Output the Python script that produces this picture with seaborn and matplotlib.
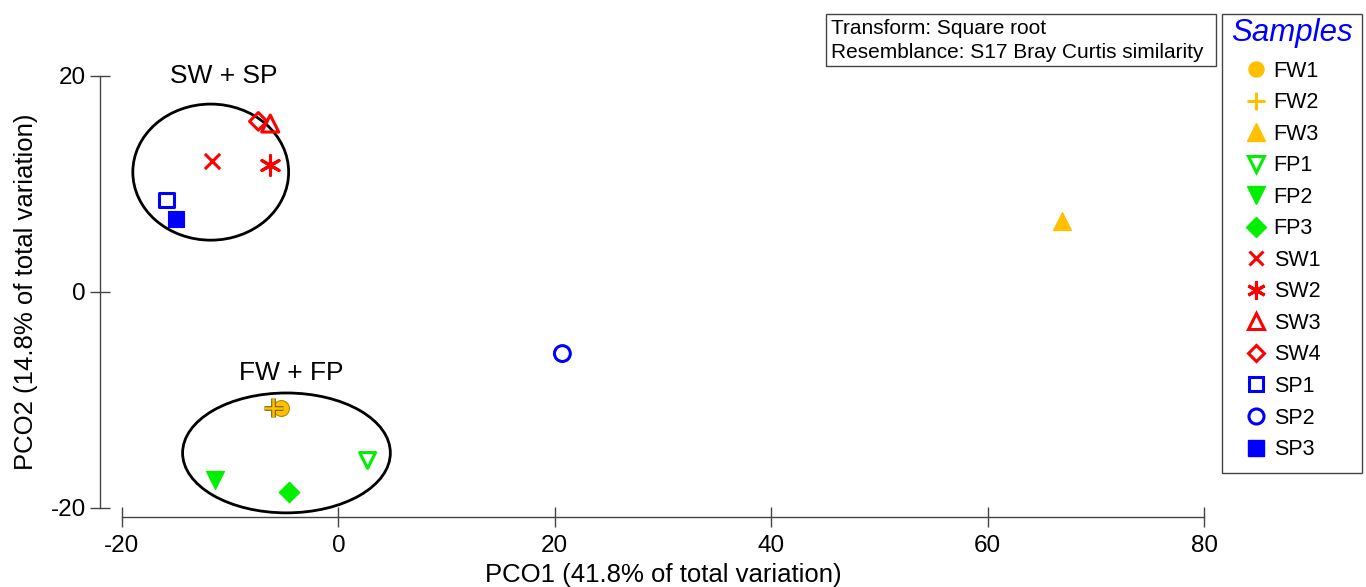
import matplotlib.pyplot as plt
import matplotlib.patheffects as pe
import seaborn as sns
import pandas as pd
from matplotlib.patches import Ellipse, Rectangle
from matplotlib.lines import Line2D

sns.set_style("white")
plt.rcParams["font.family"] = ["Liberation Sans", "DejaVu Sans"]
plt.rcParams["axes.unicode_minus"] = False
plt.rcParams["text.color"] = "black"
plt.rcParams["axes.labelcolor"] = "black"

# PCO scores
samples = ["FW1", "FW2", "FW3", "FP1", "FP2", "FP3", "SW1", "SW2", "SW3", "SW4", "SP1", "SP2", "SP3"]
pco1 = [-5.3, -6.0, 66.9, 2.7, -11.4, -4.6, -11.7, -6.3, -6.3, -7.4, -15.9, 20.7, -15.0]
pco2 = [-10.7, -10.7, 6.6, -15.6, -17.4, -18.5, 12.1, 11.8, 15.6, 15.8, 8.5, -5.7, 6.8]

# cluster ellipses: centre x, centre y, width, height (data units)
groups = ["SW + SP", "FW + FP"]
ell_x = [-11.8, -4.8]
ell_y = [11.1, -14.9]
ell_w = [14.4, 19.2]
ell_h = [12.6, 11.1]
lab_x = [-10.6, -4.4]
lab_y = [20.0, -7.5]

ORANGE = "#FFC000"
GREEN = "#00F000"
RED = "#FF0000"
BLUE = "#0000FF"

# marker, colour, filled, size
styles = {
    "FW1": ("o", ORANGE, True, 130),
    "FW2": ("+", ORANGE, True, 200),
    "FW3": ("^", ORANGE, True, 170),
    "FP1": ("v", GREEN, False, 130),
    "FP2": ("v", GREEN, True, 170),
    "FP3": ("D", GREEN, True, 110),
    "SW1": ("x", RED, True, 120),
    "SW2": ((6, 2, 0), RED, True, 200),
    "SW3": ("^", RED, False, 150),
    "SW4": ("D", RED, False, 80),
    "SP1": ("s", BLUE, False, 110),
    "SP2": ("o", BLUE, False, 130),
    "SP3": ("s", BLUE, True, 140),
}

df = pd.DataFrame({"sample": samples, "pco1": pco1, "pco2": pco2})

fig, ax = plt.subplots(figsize=(13.66, 5.87), dpi=100)
ax.set_position([122 / 1366, 79 / 587, 1082 / 1366, 432 / 587])

for i in range(len(groups)):
    ax.add_patch(Ellipse((ell_x[i], ell_y[i]), ell_w[i], ell_h[i], fill=False,
                         edgecolor="black", lw=2, zorder=1, clip_on=False))
    ax.text(lab_x[i], lab_y[i], groups[i], ha="center", va="center", fontsize=19)

for s in samples:
    mk, col, filled, size = styles[s]
    sub = df[df["sample"] == s]
    if mk == "+":
        sns.scatterplot(data=sub, x="pco1", y="pco2", marker=mk, color=col,
                        s=size, linewidth=1.8, ax=ax, zorder=4)
        ax.collections[-1].set_path_effects(
            [pe.Stroke(linewidth=3.4, foreground="#7A6000"), pe.Normal()])
    elif mk == "x" or isinstance(mk, tuple):
        sns.scatterplot(data=sub, x="pco1", y="pco2", marker=mk, color=col,
                        s=size, linewidth=2.2, ax=ax, zorder=3)
    elif filled:
        ec = "#B08A00" if s == "FW1" else col
        sns.scatterplot(data=sub, x="pco1", y="pco2", marker=mk, color=col,
                        edgecolor=ec, s=size, linewidth=0.8, ax=ax, zorder=2)
    else:
        sns.scatterplot(data=sub, x="pco1", y="pco2", marker=mk, facecolor="none",
                        edgecolor=col, s=size, linewidth=2.2, ax=ax, zorder=3)

ax.set_xlim(-20, 80)
ax.set_ylim(-20, 20)
ax.set_xticks([-20, 0, 20, 40, 60, 80])
ax.set_yticks([-20, 0, 20])
sns.despine(ax=ax, offset={"left": 16, "bottom": 6.5})
for sp in ["left", "bottom"]:
    ax.spines[sp].set_color("#444444")
    ax.spines[sp].set_linewidth(1.0)
ax.tick_params(axis="both", direction="inout", length=14, width=1, bottom=True, left=True,
               color="#444444", labelcolor="black", labelsize=17.5)
ax.tick_params(axis="y", pad=3)
ax.tick_params(axis="x", pad=6)

ax.set_xlabel("PCO1 (41.8% of total variation)", fontsize=18.5)
ax.set_ylabel("PCO2 (14.8% of total variation)", fontsize=18.5)
ax.xaxis.set_label_coords(0.5, -0.128)
ax.yaxis.set_label_coords(-0.078, 0.5)

# info box
fig.patches.append(Rectangle((826 / 1366, 1 - 66 / 587), 390 / 1366, 52 / 587,
                             transform=fig.transFigure, fill=False,
                             edgecolor="#444444", lw=1))
fig.text(831 / 1366, 1 - 28 / 587, "Transform: Square root", fontsize=15, va="center")
fig.text(831 / 1366, 1 - 52 / 587, "Resemblance: S17 Bray Curtis similarity",
         fontsize=15, va="center")

# legend
handles = []
for s in samples:
    mk, col, filled, size = styles[s]
    ms = size ** 0.5 * 0.95
    if mk in ("+", "x") or isinstance(mk, tuple):
        h = Line2D([], [], marker=mk, color=col, linestyle="none", markersize=ms,
                   markeredgewidth=2.2)
    elif filled:
        h = Line2D([], [], marker=mk, color=col, markerfacecolor=col, markeredgecolor=col,
                   linestyle="none", markersize=ms)
    else:
        h = Line2D([], [], marker=mk, color=col, markerfacecolor="none", markeredgecolor=col,
                   linestyle="none", markersize=ms, markeredgewidth=2.2)
    handles.append(h)

fig.patches.append(Rectangle((1222 / 1366, 1 - 473 / 587), 140 / 1366, 459 / 587,
                             transform=fig.transFigure, fill=False,
                             edgecolor="#444444", lw=1))
fig.text(1292 / 1366, 1 - 33 / 587, "Samples", fontsize=22.5, style="italic",
         color=BLUE, ha="center", va="center")
leg = fig.legend(handles, samples, loc="upper left",
                 bbox_to_anchor=(1236 / 1366, 1 - 53 / 587), borderaxespad=0,
                 frameon=False, fontsize=15.5, labelspacing=0.49,
                 handletextpad=0.2, handlelength=1.2, borderpad=0.35)

fig.savefig("out.png", dpi=100)
